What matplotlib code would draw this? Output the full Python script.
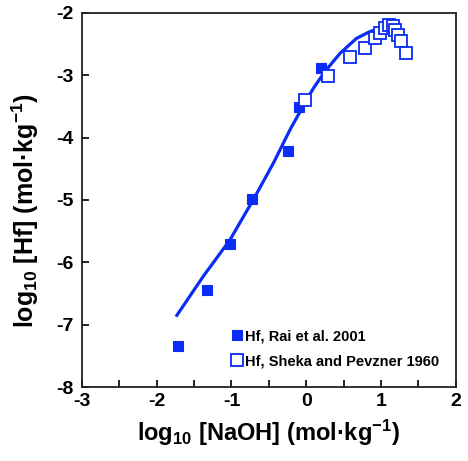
import matplotlib
matplotlib.use("Agg")
import matplotlib.pyplot as plt

plt.rcParams['font.family'] = ['Liberation Sans', 'DejaVu Sans']
plt.rcParams['font.weight'] = 'bold'
plt.rcParams['mathtext.fontset'] = 'custom'
plt.rcParams['mathtext.rm'] = 'Liberation Sans:bold'
plt.rcParams['mathtext.bf'] = 'Liberation Sans:bold'
plt.rcParams['mathtext.default'] = 'rm'
plt.rcParams['axes.unicode_minus'] = False

# Rai et al. 2001 (filled)
rai_x = [-1.72, -1.33, -1.02, -0.72, -0.24, -0.10, 0.20]
rai_y = [-7.34, -6.45, -5.70, -4.99, -4.21, -3.51, -2.88]

# Sheka and Pevzner 1960 (open)
sheka_x = [-0.02, 0.29, 0.58, 0.78, 0.92, 0.99, 1.05, 1.10, 1.16, 1.18, 1.23, 1.27, 1.34]
sheka_y = [-3.39, -3.01, -2.71, -2.56, -2.41, -2.32, -2.24, -2.20, -2.21, -2.27, -2.35, -2.45, -2.65]

# model curve
fit_x = [-1.73, -1.38, -1.02, -0.71, -0.44, -0.22, -0.09, -0.02, 0.10, 0.25, 0.45,
         0.67, 0.85, 0.95, 1.03, 1.12, 1.21, 1.27, 1.32]
fit_y = [-6.85, -6.23, -5.64, -5.00, -4.41, -3.88, -3.60, -3.44, -3.20, -2.94, -2.65,
         -2.41, -2.30, -2.26, -2.25, -2.27, -2.33, -2.41, -2.51]

blue = '#0a2cf5'

fig = plt.figure(figsize=(4.68, 4.61), dpi=100)
ax = fig.add_axes([0.175, 0.1605, 0.799, 0.8115])

ax.plot(fit_x, fit_y, '-', color=blue, lw=2.3, solid_joinstyle='round', zorder=2)
ax.plot(rai_x, rai_y, 's', color=blue, ms=7.5, mec=blue, mew=0.8, ls='none',
        label='Hf, Rai et al. 2001', zorder=3)
ax.plot(sheka_x, sheka_y, 's', mfc='white', mec=blue, ms=8, mew=1.3, ls='none',
        label='Hf, Sheka and Pevzner 1960', zorder=3)

ax.set_xlim(-3, 2)
ax.set_ylim(-8, -2)
ax.set_xticks([-3, -2, -1, 0, 1, 2])
ax.set_xticks([-2.5, -1.5, -0.5, 0.5, 1.5], minor=True)
ax.set_yticks([-8, -7, -6, -5, -4, -3, -2])
ax.tick_params(which='both', direction='in', length=5, width=1.2, labelsize=14, pad=4)
ax.tick_params(axis='y', pad=6)
for lab in ax.get_xticklabels() + ax.get_yticklabels():
    lab.set_fontweight('bold')
for s in ax.spines.values():
    s.set_linewidth(1.3)
    s.set_color('#222222')

ax.set_xlabel(r'log$_{10}$ [NaOH] (mol·kg$^{\mathrm{-1}}$)', fontsize=17, fontweight='bold', labelpad=6)
ax.set_ylabel(r'log$_{10}$ [Hf] (mol·kg$^{\mathrm{-1}}$)', fontsize=18, fontweight='bold')
ax.yaxis.set_label_coords(-0.11, 0.473)

ax.legend(loc='lower left', bbox_to_anchor=(0.39, 0.035), frameon=False, fontsize=10.5,
          handlelength=0.5, handletextpad=0.3, labelspacing=0.75, borderaxespad=0)

fig.savefig('out.png', dpi=100)
